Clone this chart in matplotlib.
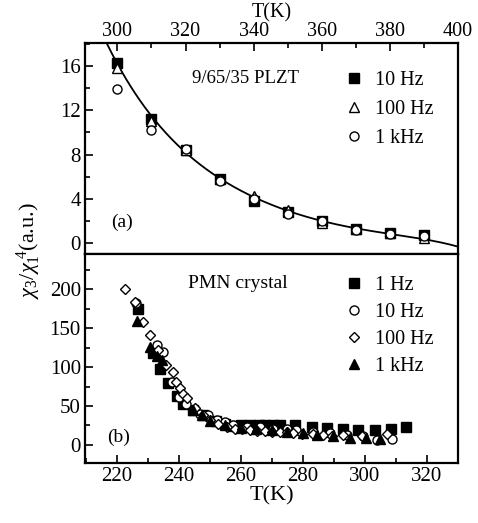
import numpy as np
import matplotlib
matplotlib.use('Agg')
import matplotlib.pyplot as plt
from matplotlib.ticker import MultipleLocator

plt.rcParams['font.family'] = ['Liberation Serif', 'DejaVu Serif']
plt.rcParams['mathtext.fontset'] = 'custom'
plt.rcParams['mathtext.rm'] = 'Liberation Serif'
plt.rcParams['mathtext.it'] = 'Liberation Serif:italic'

# (a) 9/65/35 PLZT
t_plzt = [300, 310, 320, 330, 340, 350, 360, 370, 380, 390]
plzt_10hz = [16.3, 11.2, 8.4, 5.8, 3.8, 2.8, 2.0, 1.3, 0.9, 0.7]
plzt_100hz = [15.8, 11.0, 8.4, 5.8, 4.3, 3.0, 1.8, 1.3, 0.9, 0.5]
plzt_1khz = [13.9, 10.2, 8.5, 5.6, 4.0, 2.6, 2.0, 1.2, 0.8, 0.6]

# fitted curve
fit_t = [297, 300, 310, 320, 330, 340, 350, 360, 370, 380, 390, 400]
fit_y = [18.0, 16.2, 11.4, 8.3, 5.9, 4.1, 2.9, 2.0, 1.4, 0.85, 0.3, -0.3]

# (b) PMN crystal
t_1hz = [227.0, 231.8, 234.0, 236.5, 239.4, 241.5, 244.5, 248.0, 252.0, 255.0, 257.6,
         260.0, 263.0, 266.0, 268.0, 270.5, 272.7, 277.5, 282.9, 287.7, 293.1, 297.9,
         303.3, 308.4, 313.5]
pmn_1hz = [174, 118, 97, 80, 63, 53, 45, 38, 31, 27, 24,
           25, 25, 25, 25, 26, 25, 25, 23.5, 22, 20.5, 19,
           19, 20.5, 23.5]

t_10hz = [226.2, 233.1, 235.0, 237.7, 240.1, 242.4, 246.9, 249.6, 252.3, 255.0, 257.6,
          262.0, 266.2, 270.5, 274.8, 278.0, 283.4, 288.8, 294.2, 299.6, 303.9, 308.7]
pmn_10hz = [182, 128, 120, 81, 62, 52, 40, 38, 32, 29, 26,
            23.5, 23, 21, 20, 19, 17, 15, 13, 11, 6, 7]

t_100hz = [222.7, 225.9, 228.4, 230.8, 233.4, 235.8, 238.1, 239.1, 240.4, 241.5, 242.6,
           245.3, 248.0, 250.1, 252.8, 255.5, 258.2, 260.3, 263.0, 265.2, 267.8, 270.0,
           272.7, 274.8, 277.0, 279.7, 283.4, 286.7, 289.4, 293.1, 299.0, 307.1]
pmn_100hz = [200, 183, 158, 141, 122, 103, 94, 81, 73, 66, 60,
             47, 38.5, 32, 27, 23.5, 21, 20, 19, 18, 18, 17,
             17, 16, 15, 14, 14, 13, 12, 13, 11, 14]

t_1khz = [226.5, 230.8, 232.9, 234.5, 244.7, 247.4, 250.0, 255.0, 260.0, 265.0, 270.0,
          275.0, 280.0, 284.5, 289.9, 295.3, 300.6, 304.9]
pmn_1khz = [159, 126, 114, 109, 45, 38, 31, 26, 22, 20, 19,
            17, 15, 13, 12, 8.5, 8.5, 7]

fig = plt.figure(figsize=(4.78, 5.23), dpi=100)
ax1 = fig.add_axes([0.178, 0.514, 0.780, 0.404])
ax2 = fig.add_axes([0.178, 0.115, 0.780, 0.399])

ms = 6.5
ax1.plot(t_plzt, plzt_10hz, 's', color='black', ms=ms, label='10 Hz')
ax1.plot(t_plzt, plzt_100hz, '^', mfc='white', mec='black', ms=ms, mew=1, label='100 Hz')
ax1.plot(t_plzt, plzt_1khz, 'o', mfc='white', mec='black', ms=ms, mew=1, label='1 kHz')
coef = np.polyfit(fit_t, fit_y, 5)
tt = np.linspace(fit_t[0], fit_t[-1], 300)
ax1.plot(tt, np.polyval(coef, tt), '-', color='black', lw=1.3, zorder=1)

ax1.set_xlim(290.5, 400)
ax1.set_ylim(-1, 18.1)
ax1.xaxis.tick_top()
ax1.xaxis.set_label_position('top')
ax1.set_xlabel('T(K)', fontsize=14.5, va='top')
ax1.xaxis.set_label_coords(0.5, 1.19)
ax1.xaxis.set_major_locator(MultipleLocator(20))
ax1.xaxis.set_minor_locator(MultipleLocator(10))
ax1.yaxis.set_major_locator(MultipleLocator(4))
ax1.yaxis.set_minor_locator(MultipleLocator(2))
ax1.text(0.43, 0.83, '9/65/35 PLZT', transform=ax1.transAxes, fontsize=13.5, ha='center', va='center')
ax1.text(0.10, 0.15, '(a)', transform=ax1.transAxes, fontsize=14, ha='center', va='center')
ax1.legend(loc='upper left', bbox_to_anchor=(0.65, 0.935), frameon=False, fontsize=14.5,
           handletextpad=0.45, labelspacing=0.5, handlelength=1.2, borderpad=0.2)

ax2.plot(t_1hz, pmn_1hz, 's', color='black', ms=ms, label='1 Hz')
ax2.plot(t_10hz, pmn_10hz, 'o', mfc='white', mec='black', ms=ms, mew=1, label='10 Hz')
ax2.plot(t_100hz, pmn_100hz, 'D', mfc='white', mec='black', ms=5.5, mew=1, label='100 Hz')
ax2.plot(t_1khz, pmn_1khz, '^', color='black', ms=ms, label='1 kHz')

ax2.set_xlim(209.8, 330.1)
ax2.set_ylim(-23, 245)
ax2.set_xlabel('T(K)', fontsize=16, labelpad=0)
ax2.xaxis.set_major_locator(MultipleLocator(20))
ax2.xaxis.set_minor_locator(MultipleLocator(10))
ax2.yaxis.set_major_locator(MultipleLocator(50))
ax2.yaxis.set_minor_locator(MultipleLocator(25))
ax2.text(0.41, 0.86, 'PMN crystal', transform=ax2.transAxes, fontsize=14, ha='center', va='center')
ax2.text(0.09, 0.12, '(b)', transform=ax2.transAxes, fontsize=14, ha='center', va='center')
ax2.legend(loc='upper left', bbox_to_anchor=(0.65, 0.965), frameon=False, fontsize=14.5,
           handletextpad=0.45, labelspacing=0.4, handlelength=1.2, borderpad=0.2)

for ax in (ax1, ax2):
    for s in ax.spines.values():
        s.set_linewidth(1.6)
    ax.tick_params(which='both', direction='in', labelsize=15, width=1.2)
    ax.tick_params(which='major', length=6, pad=3)
    ax.tick_params(which='minor', length=3.5)
ax1.tick_params(axis='x', pad=1, labelsize=14.5)

fig.text(0.06, 0.52, r'$\chi_3/\chi_1^{\ 4}$(a.u.)', rotation=90, fontsize=16,
         ha='center', va='center')

fig.savefig('out.png', dpi=100)
